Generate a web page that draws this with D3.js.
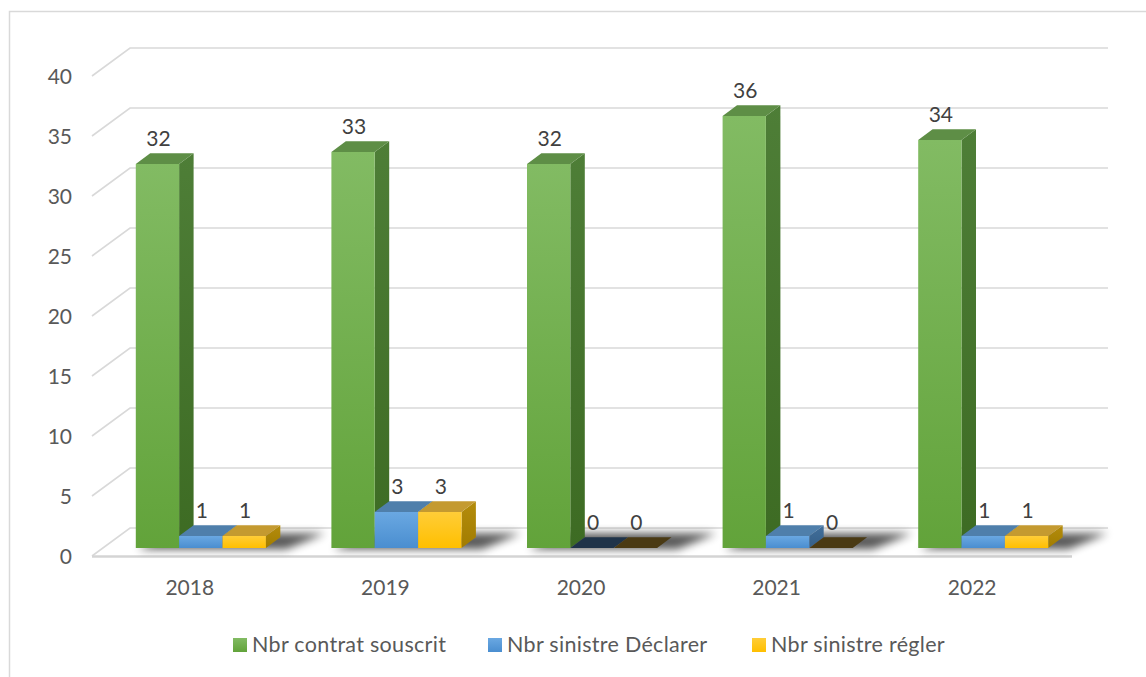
<!DOCTYPE html>
<html lang="fr">
<head>
<meta charset="UTF-8">
<title>Contrats et sinistres</title>
<script src="https://d3js.org/d3.v7.min.js"></script>
<style>
  body { margin: 0; background: #fff; }
  svg { font-family: Lato, "Open Sans", sans-serif; }
</style>
</head>
<body>
<div id="chart"></div>
<script>
// data
var years = ["2018", "2019", "2020", "2021", "2022"];
var contrat = [32, 33, 32, 36, 34];
var declarer = [1, 3, 0, 1, 1];
var regler = [1, 3, 0, 0, 1];
var seriesNames = ["Nbr contrat souscrit", "Nbr sinistre Déclarer", "Nbr sinistre régler"];
var tickValues = [0, 5, 10, 15, 20, 25, 30, 35, 40];

var W = 1146, H = 677;
var svg = d3.select("#chart").append("svg").attr("width", W).attr("height", H);
var defs = svg.append("defs");

// series styles: front gradient, top, side, top when value is 0
var styles = [
  { name: seriesNames[0], vals: contrat, f0: "#82bb63", f1: "#62a33a", top: "#5e8e46", side0: "#4e7e37", side1: "#3d6b23", zero: "#2f4a20", legend: "#70ad47" },
  { name: seriesNames[1], vals: declarer, f0: "#6aa8e2", f1: "#4a8ed0", top: "#4f7fab", side0: "#416f9b", side1: "#355f88", zero: "#1f3349", legend: "#5b9bd5" },
  { name: seriesNames[2], vals: regler, f0: "#ffcd38", f1: "#ffbf00", top: "#c49a30", side0: "#b48c0c", side1: "#a17c00", zero: "#4a3a14", legend: "#ffc000" }
];

styles.forEach(function (s, i) {
  var g = defs.append("linearGradient").attr("id", "front" + i)
    .attr("x1", 0).attr("y1", 0).attr("x2", 0).attr("y2", 1);
  g.append("stop").attr("offset", "0%").attr("stop-color", s.f0);
  g.append("stop").attr("offset", "100%").attr("stop-color", s.f1);
  var g2 = defs.append("linearGradient").attr("id", "side" + i)
    .attr("x1", 0).attr("y1", 0).attr("x2", 0).attr("y2", 1);
  g2.append("stop").attr("offset", "0%").attr("stop-color", s.side0);
  g2.append("stop").attr("offset", "100%").attr("stop-color", s.side1);
  var g3 = defs.append("linearGradient").attr("id", "leg" + i)
    .attr("x1", 0).attr("y1", 0).attr("x2", 0).attr("y2", 1);
  g3.append("stop").attr("offset", "0%").attr("stop-color", s.f0);
  g3.append("stop").attr("offset", "100%").attr("stop-color", s.f1);
});

defs.append("filter").attr("id", "blur")
  .attr("x", "-50%").attr("y", "-200%").attr("width", "200%").attr("height", "500%")
  .append("feGaussianBlur").attr("stdDeviation", 4.5);

// outer border
svg.append("rect")
  .attr("x", 9.5).attr("y", 11.5).attr("width", 1160).attr("height", 700)
  .attr("fill", "none").attr("stroke", "#d9d9d9").attr("stroke-width", 1.5);

// scales (front plane) and depth
var y = d3.scaleLinear().domain([0, 40]).range([556, 76]);
var x0 = d3.scaleBand().domain(years).range([92, 1070]);
var groupW = x0.bandwidth() * 0.665;
var x1 = d3.scaleBand().domain(seriesNames).range([0, groupW]);
var DX = 38, DY = -28;
var t0 = 0.29, t1 = 0.67;

function P(x, v, t) { return [x + DX * t, y(v) + DY * t]; }
function poly(pts) { return pts.map(function (p) { return p[0].toFixed(1) + "," + p[1].toFixed(1); }).join(" "); }

var xL = x0.range()[0], xR = x0.range()[1];

// side wall and back wall gridlines
var grid = svg.append("g");
tickValues.forEach(function (v) {
  var a = P(xL, v, 0), b = P(xL, v, 1), c = P(xR, v, 1);
  grid.append("polyline")
    .attr("points", poly([a, b, c]))
    .attr("fill", "none").attr("stroke", "#d9d9d9").attr("stroke-width", 1.6);
});

// floor front edge
svg.append("line")
  .attr("x1", xL).attr("x2", xR + 2).attr("y1", y(0) + 0.5).attr("y2", y(0) + 0.5)
  .attr("stroke", "#d4d4d4").attr("stroke-width", 2.5);

// tick labels
svg.append("g").selectAll("text").data(tickValues).join("text")
  .attr("x", 72).attr("y", function (d) { return y(d); })
  .attr("dy", "0.36em").attr("text-anchor", "end")
  .attr("font-size", 21).attr("fill", "#595959")
  .text(function (d) { return d; });

// category labels
svg.append("g").selectAll("text").data(years).join("text")
  .attr("x", function (d) { return x0(d) + x0.bandwidth() / 2; })
  .attr("y", 595).attr("text-anchor", "middle")
  .attr("font-size", 21).attr("fill", "#595959")
  .text(function (d) { return d; });

// shadows on the floor
var gx = function (yr) { return x0(yr) + (x0.bandwidth() - groupW) / 2; };
svg.append("g").selectAll("polygon").data(years).join("polygon")
  .attr("points", function (yr) {
    var L = gx(yr), R = L + groupW;
    return poly([P(L + 4, 0, t0 - 0.05), P(R + 22, 0, t0 - 0.05), P(R + 40, 0, t1 + 0.14), P(L + 14, 0, t1 + 0.14)]);
  })
  .attr("fill", "#000").attr("opacity", 0.65).attr("filter", "url(#blur)");

// bars
var bars = svg.append("g");
years.forEach(function (yr, j) {
  var g = bars.append("g");
  styles.forEach(function (s, i) {
    var v = s.vals[j];
    var L = gx(yr) + x1(s.name), R = L + x1.bandwidth();
    if (v > 0) {
      g.append("polygon").attr("points", poly([P(R, 0, t0), P(R, 0, t1), P(R, v, t1), P(R, v, t0)]))
        .attr("fill", "url(#side" + i + ")");
      g.append("polygon").attr("points", poly([P(L, 0, t0), P(R, 0, t0), P(R, v, t0), P(L, v, t0)]))
        .attr("fill", "url(#front" + i + ")");
    }
    g.append("polygon").attr("points", poly([P(L, v, t0), P(R, v, t0), P(R, v, t1), P(L, v, t1)]))
      .attr("fill", v > 0 ? s.top : s.zero);
  });
});

// value labels
var labels = svg.append("g");
years.forEach(function (yr, j) {
  styles.forEach(function (s) {
    var v = s.vals[j];
    var L = gx(yr) + x1(s.name);
    var p = P(L + x1.bandwidth() / 2, v, t0);
    labels.append("text")
      .attr("x", p[0] + 1).attr("y", p[1] - 18)
      .attr("text-anchor", "middle").attr("font-size", 21).attr("fill", "#404040")
      .text(v);
  });
});

// legend
var legendX = [233, 488, 752];
var legend = svg.append("g").selectAll("g").data(styles).join("g")
  .attr("transform", function (d, i) { return "translate(" + legendX[i] + ",638)"; });
legend.append("rect").attr("width", 14).attr("height", 14)
  .attr("fill", function (d, i) { return "url(#leg" + i + ")"; });
legend.append("text").attr("x", 19).attr("y", 14)
  .attr("font-size", 21.5).attr("letter-spacing", 0.3).attr("fill", "#595959")
  .text(function (d) { return d.name; });
</script>
</body>
</html>
